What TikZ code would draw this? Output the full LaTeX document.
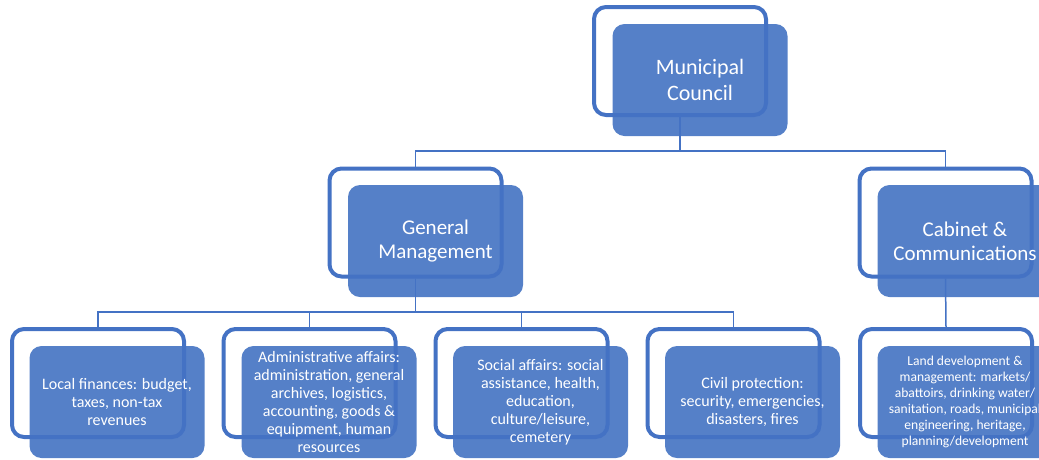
\documentclass[tikz,border=0pt]{standalone}
\usepackage{fontspec}
\setmainfont{Carlito}
\definecolor{frameblue}{RGB}{68,114,196}
\definecolor{fillblue}{RGB}{85,128,200}
\begin{document}
\begin{tikzpicture}[x=1pt,y=-1pt,
  frame/.style={draw=frameblue, line width=4pt, rounded corners=12pt, minimum width=172pt, minimum height=108pt, inner sep=0pt},
  card/.style={fill=fillblue, rounded corners=12pt, minimum width=175pt, minimum height=112pt, inner sep=0pt},
  label/.style={text=white, align=center, inner sep=0pt},
  big/.style={font=\fontsize{22}{26}\selectfont},
  mid/.style={font=\fontsize{21}{24}\selectfont},
  small/.style={font=\fontsize{16}{18}\selectfont},
  tiny/.style={font=\fontsize{13.6}{16}\selectfont},
  link/.style={draw=frameblue, line width=1.5pt}]
\useasboundingbox (0,0) rectangle (1039,459);
% top
\node[card] (topc) at (700,80) {};
\node[frame] (top) at (680,61) {};
\node[label,big] (topt) at (topc.center) {Municipal\\Council};
% general management
\node[card] (gmc) at (435.5,241) {};
\node[frame] (gm) at (415.5,222.5) {};
\node[label,mid] (gmt) at (gmc.center) {General\\Management};
% cabinet
\node[card] (cabc) at (965,241) {};
\node[frame] (cab) at (945.5,222.5) {};
\node[label,mid] (cabt) at (cabc.center) {Cabinet \&\\Communications};
% bottom row
\node[card] (b1c) at (117,402) {};
\node[frame] (b1) at (98,383) {};
\node[label,small] (b1t) at (b1c.center) {Local finances: budget,\\taxes, non-tax\\revenues};
\node[card] (b2c) at (329,402) {};
\node[frame] (b2) at (309.5,383) {};
\node[label,small] (b2t) at (b2c.center) {Administrative affairs:\\administration, general\\archives, logistics,\\accounting, goods \&\\equipment, human\\resources};
\node[card] (b3c) at (540.5,402) {};
\node[frame] (b3) at (521.5,383) {};
\node[label,small] (b3t) at (b3c.center) {Social affairs: social\\assistance, health,\\education,\\culture/leisure,\\cemetery};
\node[card] (b4c) at (752.5,402) {};
\node[frame] (b4) at (733.5,383) {};
\node[label,small] (b4t) at (b4c.center) {Civil protection:\\security, emergencies,\\disasters, fires};
\node[card] (b5c) at (965,402) {};
\node[frame] (b5) at (946,383) {};
\node[label,tiny] (b5t) at (b5c.center) {Land development \&\\management: markets/\\abattoirs, drinking water/\\sanitation, roads, municipal\\engineering, heritage,\\planning/development};
% connectors
\coordinate (j1) at (680,151);
\coordinate (j2) at (415.5,312);
\draw[link] (top.south) -- (j1);
\draw[link] (gm.north) |- (j1);
\draw[link] (cab.north) |- (j1);
\draw[link] (gm.south) -- (j2);
\draw[link] (b1.north) |- (j2);
\draw[link] (b2.north) |- (j2);
\draw[link] (b3.north) |- (j2);
\draw[link] (b4.north) |- (j2);
\draw[link] (cab.south) -- (b5.north);
\end{tikzpicture}
\end{document}
